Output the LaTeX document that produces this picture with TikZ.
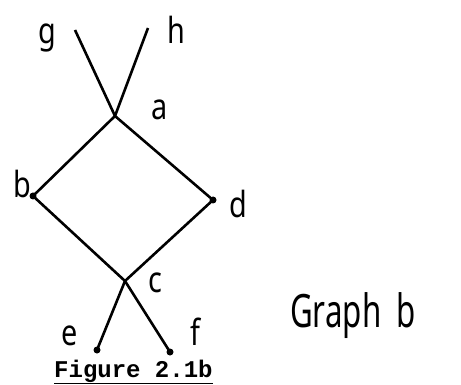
\documentclass[tikz,border=0pt]{standalone}
\usepackage{fontspec}
\setmainfont{Latin Modern Roman}
\newfontfamily\handfont{Noto Sans}
\newfontfamily\figfont{Liberation Mono}
\begin{document}
\begin{tikzpicture}[x=1pt,y=-1pt,
  edge/.style={line width=2.6pt,black},
  vdot/.style={circle,fill=black,inner sep=0pt,minimum size=7pt},
  lbl/.style={font=\handfont\fontsize{36}{38}\selectfont,inner sep=0pt,xscale=0.8}]
\useasboundingbox (0,0) rectangle (461,385);
% vertices
\coordinate (g) at (75,30);
\coordinate (h) at (148,28);
\coordinate (a) at (115,116);
\node[vdot] (b) at (33,196) {};
\node[vdot] (d) at (213,200) {};
\coordinate (c) at (125,281);
\node[vdot] (e) at (97,350) {};
\node[vdot] (f) at (170,352) {};
% edges
\draw[edge] (g) -- (a);
\draw[edge] (h) -- (a);
\draw[edge] (a) -- (b.center);
\draw[edge] (a) -- (d.center);
\draw[edge] (b.center) -- (c);
\draw[edge] (d.center) -- (c);
\draw[edge] (c) -- (e.center);
\draw[edge] (c) -- (f.center);
% labels
\node[lbl] (lg) at (47,38) {g};
\node[lbl] (lh) at (176,30) {h};
\node[lbl] (la) at (160,110) {a};
\node[lbl] (lb) at (22,184) {b};
\node[lbl] (ld) at (238,204) {d};
\node[lbl] (lc) at (155,283) {c};
\node[lbl] (le) at (70,336) {e};
\node[lbl] (lf) at (195,332) {f};
\node[font=\handfont\fontsize{46}{48}\selectfont,anchor=west,inner sep=0pt,xscale=0.68] (graph) at (290,316) {Graph\hspace{22pt}b};
\node[font=\figfont\bfseries\fontsize{24}{26}\selectfont,anchor=base west,inner sep=0pt] (fig) at (54,377) {\underline{Figure 2.1b}};
\end{tikzpicture}
\end{document}
